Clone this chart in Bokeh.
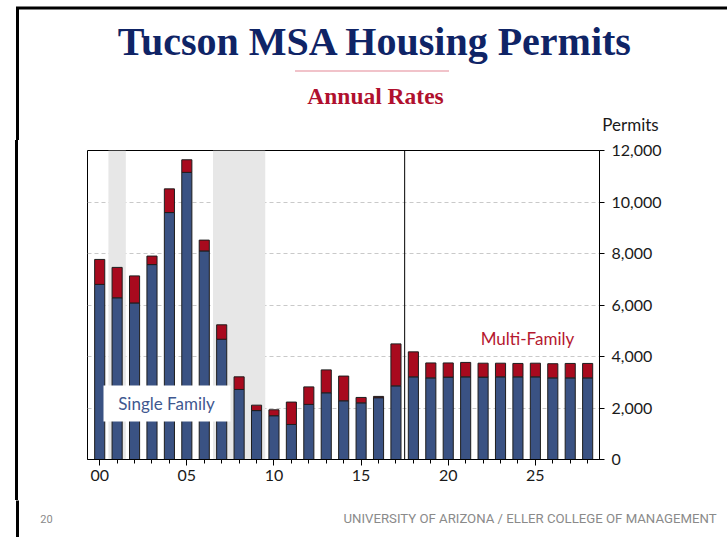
from bokeh.plotting import figure
from bokeh.models import (ColumnDataSource, FixedTicker, NumeralTickFormatter, Label,
                          BoxAnnotation, Span, Range1d, Div)
from bokeh.layouts import column, row
from bokeh.embed import file_html
from bokeh.resources import INLINE

# ---------------- data ----------------
years = list(range(2000, 2029))
single_family = [6800, 6280, 6080, 7570, 9590, 11150, 8100, 4670, 2720, 1900,
                 1700, 1360, 2140, 2590, 2280, 2200, 2400, 2860, 3210, 3170,
                 3200, 3210, 3200, 3210, 3210, 3210, 3170, 3170, 3170]
total_permits = [7770, 7460, 7130, 7900, 10510, 11640, 8520, 5230, 3210, 2110,
                 1930, 2230, 2820, 3480, 3240, 2410, 2450, 4490, 4180, 3750,
                 3750, 3770, 3740, 3740, 3730, 3740, 3720, 3730, 3730]
multi_family = [t - s for t, s in zip(total_permits, single_family)]
recessions = [(2000.5, 2001.5), (2006.5, 2009.5)]
forecast_start = 2017.5
x_label_years = [2000, 2005, 2010, 2015, 2020, 2025]
x_tick_labels = ["00", "05", "10", "15", "20", "25"]
y_ticks = [0, 2000, 4000, 6000, 8000, 10000, 12000]

title_text = "Tucson MSA Housing Permits"
subtitle_text = "Annual Rates"
unit_text = "Permits"
footer_text = "UNIVERSITY OF ARIZONA / ELLER COLLEGE OF MANAGEMENT"
page_number = "20"

# ---------------- layout ----------------
W, H = 727, 537
TOP_H = 140            # header strip
FOOT_H = 37            # footer strip
MID_H = H - TOP_H - FOOT_H
LEFT_W = 87            # strip left of the chart
CW = W - LEFT_W        # chart figure width
FR, FT, FB = 128, 10, 41
X0, X1 = 1999.3, 2028.68
Y0, Y1 = 0, 12000
fw, fh = CW - FR, MID_H - FT - FB
frame_bottom_page = TOP_H + FT + fh
FRAME_X = 17           # slide frame, left edge (page px)
FRAME_Y = 7.5          # slide frame, top edge (page px)


def X(px):
    return X0 + (px - LEFT_W) * (X1 - X0) / fw


def Y(py):
    return Y0 + (frame_bottom_page - py) * (Y1 - Y0) / fh


def strip(width, height, y_top):
    f = figure(width=width, height=height, output_backend="svg",
               toolbar_location=None, x_range=Range1d(0, width),
               y_range=Range1d(y_top + height, y_top),
               x_axis_type=None, y_axis_type=None, min_border=0,
               min_border_left=0, min_border_right=0, min_border_top=0,
               min_border_bottom=0)
    f.outline_line_color = None
    f.grid.visible = False
    f.background_fill_color = "white"
    f.border_fill_color = "white"
    return f


# ---------------- header ----------------
top = strip(W, TOP_H, 0)
top.segment(x0=[FRAME_X, FRAME_X - 1.5], y0=[FRAME_Y, FRAME_Y],
            x1=[FRAME_X, W + 5], y1=[TOP_H + 5, FRAME_Y],
            line_color="black", line_width=3)
top.segment(x0=[295], y0=[70.5], x1=[448], y1=[70.5], line_color="#c8102e",
            line_width=1.2, line_dash="1 1")
top.add_layout(Label(x=375, y=41, text=title_text,
                     text_font="Liberation Serif", text_font_style="bold",
                     text_font_size="40px", text_color="#0f2466",
                     text_align="center", text_baseline="alphabetic"))
top.add_layout(Label(x=375, y=95.5, text=subtitle_text,
                     text_font="Liberation Serif", text_font_style="bold",
                     text_font_size="23.5px", text_color="#b0102e",
                     text_align="center", text_baseline="alphabetic"))
top.add_layout(Label(x=630, y=124, text=unit_text, text_font="Lato",
                     text_font_size="17px", text_color="#1a1a1a",
                     text_align="center", text_baseline="middle"))

# ---------------- left strip (slide frame edge) ----------------
left = Div(text="", width=LEFT_W, height=MID_H, margin=0,
           styles={"background-image":
                   "linear-gradient(to right, transparent 15.5px, black 15.5px, "
                   "black 18.5px, transparent 18.5px)"})

# ---------------- chart ----------------
src = ColumnDataSource(dict(year=years, single=single_family,
                            multi=multi_family, total=total_permits))

p = figure(width=CW, height=MID_H, output_backend="svg", toolbar_location=None,
           x_range=(X0, X1), y_range=(Y0, Y1), y_axis_location="right",
           min_border_left=0, min_border_right=FR, min_border_top=FT,
           min_border_bottom=FB, background_fill_color="white",
           border_fill_color="white")
p.outline_line_color = "black"
p.outline_line_width = 1

for a, b in recessions:
    p.add_layout(BoxAnnotation(left=a, right=b, fill_color="#e7e7e7",
                               fill_alpha=1, line_color=None, level="underlay"))

p.xgrid.visible = False
p.ygrid.ticker = FixedTicker(ticks=y_ticks[1:-1])
p.ygrid.grid_line_color = "#c9c9c9"
p.ygrid.grid_line_dash = "4 3"

p.vbar(x="year", top="single", bottom=0, width=0.58, source=src,
       fill_color="#3a5283", line_color="#1e1e1e", line_width=1)
p.vbar(x="year", top="total", bottom="single", width=0.58, source=src,
       fill_color="#a80a1e", line_color="#1e1e1e", line_width=1)

p.add_layout(Span(location=forecast_start, dimension="height",
                  line_color="black", line_width=1))

font = "Lato"
xa = p.xaxis[0]
xa.ticker = FixedTicker(ticks=x_label_years, minor_ticks=years)
xa.major_label_overrides = {y: l for y, l in zip(x_label_years, x_tick_labels)}
xa.major_tick_in = 0
xa.major_tick_out = 6
xa.minor_tick_in = 0
xa.minor_tick_out = 4
xa.axis_line_color = "black"
xa.major_tick_line_color = "black"
xa.minor_tick_line_color = "black"
xa.major_label_text_font = font
xa.major_label_text_font_size = "16px"
xa.major_label_text_color = "#1a1a1a"
xa.major_label_standoff = 4

ya = p.yaxis[0]
ya.ticker = FixedTicker(ticks=y_ticks)
ya.formatter = NumeralTickFormatter(format="0,0")
ya.major_tick_in = 0
ya.major_tick_out = 5
ya.minor_tick_line_color = None
ya.axis_line_color = "black"
ya.major_tick_line_color = "black"
ya.major_label_text_font = font
ya.major_label_text_font_size = "16px"
ya.major_label_text_color = "#1a1a1a"
ya.major_label_standoff = 7

p.add_layout(BoxAnnotation(left=X(103), right=X(230), top=Y(385), bottom=Y(421),
                           fill_color="white", fill_alpha=1, line_color=None,
                           level="annotation"))
p.add_layout(Label(x=X(166), y=Y(403), text="Single Family", text_font=font,
                   text_font_size="17px", text_color="#3f5890",
                   text_align="center", text_baseline="middle"))
p.add_layout(Label(x=X(527), y=Y(338), text="Multi-Family", text_font=font,
                   text_font_size="17px", text_color="#b5182f",
                   text_align="center", text_baseline="middle"))

# ---------------- footer ----------------
foot = strip(W, FOOT_H, TOP_H + MID_H)
foot.segment(x0=[FRAME_X], y0=[TOP_H + MID_H - 5], x1=[FRAME_X], y1=[H + 5],
             line_color="black", line_width=3)
foot.add_layout(Label(x=46, y=518, text=page_number, text_font="Roboto",
                      text_font_size="11px", text_color="#8a8a8a",
                      text_align="center", text_baseline="middle"))
foot.add_layout(Label(x=716, y=518, text=footer_text, text_font="Roboto",
                      text_font_size="13.2px", text_color="#8a8a8a",
                      text_align="right", text_baseline="middle"))

layout = column(top, row(left, p, spacing=0), foot, spacing=0)
open("out.html", "w").write(file_html(layout, INLINE))
